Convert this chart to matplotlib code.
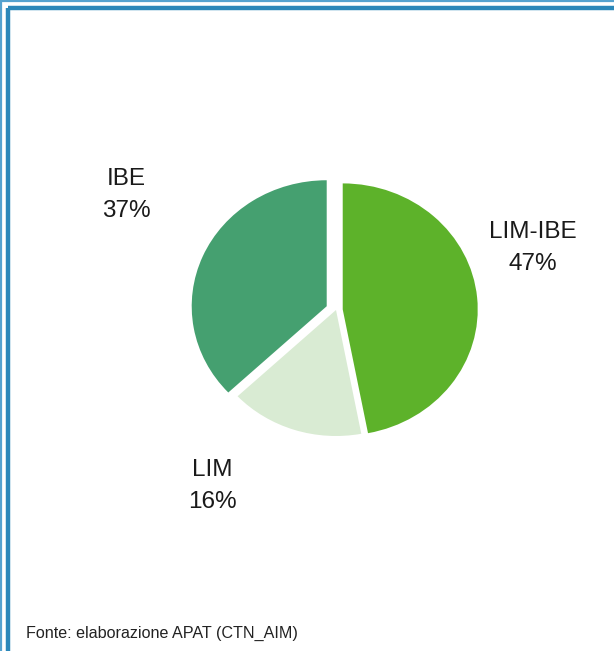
import matplotlib.pyplot as plt
from matplotlib.lines import Line2D

# quota dei corpi idrici per indice di classificazione
categorie = ["LIM-IBE", "LIM", "IBE"]
percentuali = [47, 16, 37]
colori = ["#5db22a", "#d9ebd3", "#45a070"]
distacco = [0.05, 0.0, 0.075]

W, H = 614, 651
fig = plt.figure(figsize=(W / 100, H / 100), dpi=100)

# cornice doppia blu
def linea(x, y, lw, col):
    fig.add_artist(Line2D([v / W for v in x], [1 - v / H for v in y],
                          lw=lw, color=col, transform=fig.transFigure,
                          solid_capstyle="butt"))

linea([0, W], [1, 1], 1.6, "#55a2cf")
linea([1, 1], [0, H], 1.6, "#55a2cf")
linea([8, W], [8, 8], 3.2, "#2b87b9")
linea([8, 8], [8, H], 3.2, "#2b87b9")

# torta, leggermente allargata in orizzontale
cx, cy, rx, ry = 336, 310, 135, 126
lim = 1.3
ax = fig.add_axes([(cx - lim * rx) / W, (H - cy - lim * ry) / H,
                   2 * lim * rx / W, 2 * lim * ry / H])
ax.pie(percentuali, colors=colori, explode=distacco, startangle=90,
       counterclock=False, wedgeprops=dict(linewidth=0))
ax.set_aspect("auto")
ax.set_xlim(-lim, lim)
ax.set_ylim(-lim, lim)
ax.axis("off")

# etichette
pos_etichette = {"LIM-IBE": (533, 248), "LIM": (212, 486), "IBE": (126, 195)}
for nome, val in zip(categorie, percentuali):
    x, y = pos_etichette[nome]
    fig.text(x / W, 1 - y / H, f"{nome}\n{val}%", ha="center", va="center",
             fontsize=17.5, color="#1a1a1a", family="Liberation Sans",
             linespacing=1.6)

fig.text(26 / W, 1 - 633 / H, "Fonte: elaborazione APAT (CTN_AIM)",
         ha="left", va="center", fontsize=11.6, color="#222222",
         family="Liberation Sans")

fig.savefig("out.png", dpi=100, facecolor="white")
